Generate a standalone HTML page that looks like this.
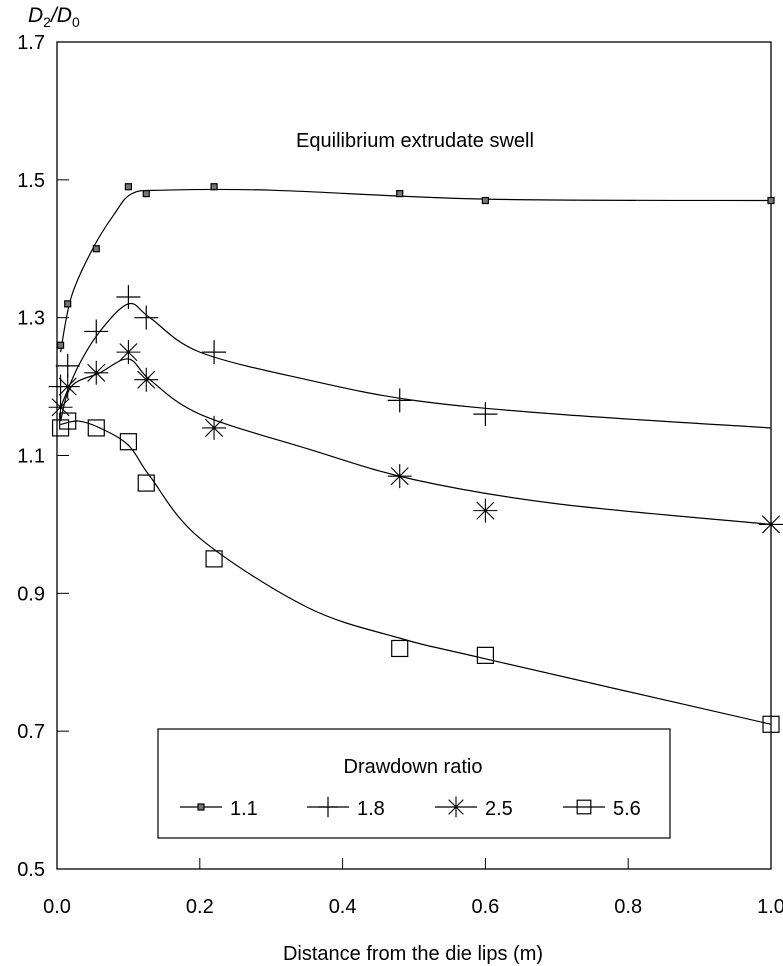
<!DOCTYPE html>
<html><head><meta charset="utf-8"><style>
body{margin:0;background:#fff;}
svg{display:block;font-family:"Liberation Sans",sans-serif;}
</style></head><body>
<svg id="chart" width="783" height="966"></svg>
<script>
const xTicks=[0.0,0.2,0.4,0.6,0.8,1.0];
const xTickLabels=["0.0","0.2","0.4","0.6","0.8","1.0"];
const yTicks=[0.5,0.7,0.9,1.1,1.3,1.5,1.7];
const yTickLabels=["0.5","0.7","0.9","1.1","1.3","1.5","1.7"];
const seriesNames=["1.1","1.8","2.5","5.6"];
const seriesMarkers=["dot","plus","star","square"];
const x11=[0.005,0.015,0.055,0.1,0.125,0.22,0.48,0.6,1.0];
const y11=[1.26,1.32,1.40,1.49,1.48,1.49,1.48,1.47,1.47];
const x18=[0.005,0.015,0.055,0.1,0.125,0.22,0.48,0.6];
const y18=[1.20,1.23,1.28,1.33,1.30,1.25,1.18,1.16];
const x25=[0.005,0.015,0.055,0.1,0.125,0.22,0.48,0.6,1.0];
const y25=[1.17,1.20,1.22,1.25,1.21,1.14,1.07,1.02,1.00];
const x56=[0.005,0.015,0.055,0.1,0.125,0.22,0.48,0.6,1.0];
const y56=[1.14,1.15,1.14,1.12,1.06,0.95,0.82,0.81,0.71];
const fx11=[0.005,0.02,0.05,0.08,0.105,0.15,0.3,0.6,1.0];
const fy11=[1.25,1.33,1.40,1.45,1.48,1.485,1.485,1.472,1.47];
const fx18=[0.005,0.03,0.06,0.1,0.13,0.2,0.35,0.5,0.7,1.0];
const fy18=[1.17,1.23,1.28,1.32,1.30,1.25,1.21,1.18,1.16,1.14];
const fx25=[0.005,0.02,0.06,0.1,0.13,0.2,0.35,0.5,0.7,1.0];
const fy25=[1.15,1.20,1.22,1.24,1.21,1.16,1.11,1.065,1.03,1.0];
const fx56=[0.005,0.03,0.06,0.1,0.13,0.2,0.35,0.48,0.6,1.0];
const fy56=[1.145,1.15,1.14,1.115,1.07,0.98,0.88,0.835,0.805,0.71];

const NS="http://www.w3.org/2000/svg";
const svg=document.getElementById("chart");
const X0=57,X1=771,Y0=869,Y1=42;
const sx=v=>X0+(v-0)/(1.0-0)*(X1-X0);
const sy=v=>Y0-(v-0.5)/(1.7-0.5)*(Y0-Y1);
function mk(tag,attrs,parent){const e=document.createElementNS(NS,tag);for(const k in attrs)e.setAttribute(k,attrs[k]);(parent||svg).appendChild(e);return e;}

const frame=mk("rect",{x:X0,y:Y1,width:X1-X0,height:Y0-Y1,fill:"none",stroke:"#000","stroke-width":1.3});



yTicks.forEach((v,i)=>{
  const y=sy(v);
  if(i>0&&i<yTicks.length-1){const t=mk("line",{x1:X0,x2:X0+12,y1:y,y2:y,stroke:"#000","stroke-width":1});
  
  }
  const l=mk("text",{x:45,y:y+7,"font-size":20,"text-anchor":"end"});l.textContent=yTickLabels[i];
  
  
});
xTicks.forEach((v,i)=>{
  const x=sx(v);
  if(i>0&&i<xTicks.length-1){const t=mk("line",{x1:x,x2:x,y1:Y0,y2:Y0-11,stroke:"#000","stroke-width":1});
  
  }
  const l=mk("text",{x:x,y:913,"font-size":20,"text-anchor":"middle"});l.textContent=xTickLabels[i];
  
  
});
const xt=mk("text",{x:413,y:960,"font-size":20,"text-anchor":"middle"});xt.textContent="Distance from the die lips (m)";


const yt=mk("text",{x:28,y:22,"font-size":21,"font-style":"italic"});
yt.innerHTML='D<tspan font-size="14" font-style="normal" dy="5">2</tspan><tspan dy="-5">/D</tspan><tspan font-size="14" font-style="normal" dy="5">0</tspan>';


const an=mk("text",{x:415,y:147,"font-size":20,"text-anchor":"middle"});an.textContent="Equilibrium extrudate swell";



function curve(xs,ys){
  const p=xs.map((x,i)=>[sx(x),sy(ys[i])]);
  let d="M"+p[0][0]+","+p[0][1];
  for(let i=0;i<p.length-1;i++){
    const a=p[Math.max(i-1,0)],b=p[i],c=p[i+1],e=p[Math.min(i+2,p.length-1)];
    d+=" C"+(b[0]+(c[0]-a[0])/6)+","+(b[1]+(c[1]-a[1])/6)+" "+(c[0]-(e[0]-b[0])/6)+","+(c[1]-(e[1]-b[1])/6)+" "+c[0]+","+c[1];
  }
  return d;
}
function marker(type,x,y,g,scale){
  scale=scale||1;
  if(type==="dot"){mk("rect",{x:x-3,y:y-3,width:6,height:6,fill:"#777",stroke:"#000","stroke-width":1.2},g);}
  else if(type==="plus"){const s=12*scale;mk("path",{d:`M${x-s},${y}H${x+s}M${x},${y-s}V${y+s}`,stroke:"#000","stroke-width":1.2,fill:"none"},g);}
  else if(type==="star"){const s=12*scale,t=s*0.72;mk("path",{d:`M${x-s},${y}H${x+s}M${x},${y-s}V${y+s}M${x-t},${y-t}L${x+t},${y+t}M${x-t},${y+t}L${x+t},${y-t}`,stroke:"#000","stroke-width":1.1,fill:"none"},g);}
  else {const s=8*scale;mk("rect",{x:x-s,y:y-s,width:2*s,height:2*s,fill:"none",stroke:"#000","stroke-width":1.2},g);}
}
const fits=[[fx11,fy11],[fx18,fy18],[fx25,fy25],[fx56,fy56]];
const pts=[[x11,y11],[x18,y18],[x25,y25],[x56,y56]];
seriesNames.forEach((n,i)=>{
  const g=mk("g",{});
  
  
  const c=mk("path",{d:curve(fits[i][0],fits[i][1]),fill:"none",stroke:"#000","stroke-width":1.2},g);
  
  
  pts[i][0].forEach((x,j)=>marker(seriesMarkers[i],sx(x),sy(pts[i][1][j]),g));
});

const lg=mk("g",{});


mk("rect",{x:158,y:729,width:512,height:109,fill:"#fff",stroke:"#000","stroke-width":1.2},lg);
const lt=mk("text",{x:413,y:773,"font-size":20,"text-anchor":"middle"},lg);lt.textContent="Drawdown ratio";


const lx=[180,307,435,563];
seriesNames.forEach((n,i)=>{
  const e=mk("g",{},lg);
  
  
  mk("line",{x1:lx[i],x2:lx[i]+42,y1:807,y2:807,stroke:"#000","stroke-width":1.2},e);
  marker(seriesMarkers[i],lx[i]+21,807,e,0.85);
  const t=mk("text",{x:lx[i]+50,y:815,"font-size":20},e);t.textContent=n;
});
</script>
</body></html>
